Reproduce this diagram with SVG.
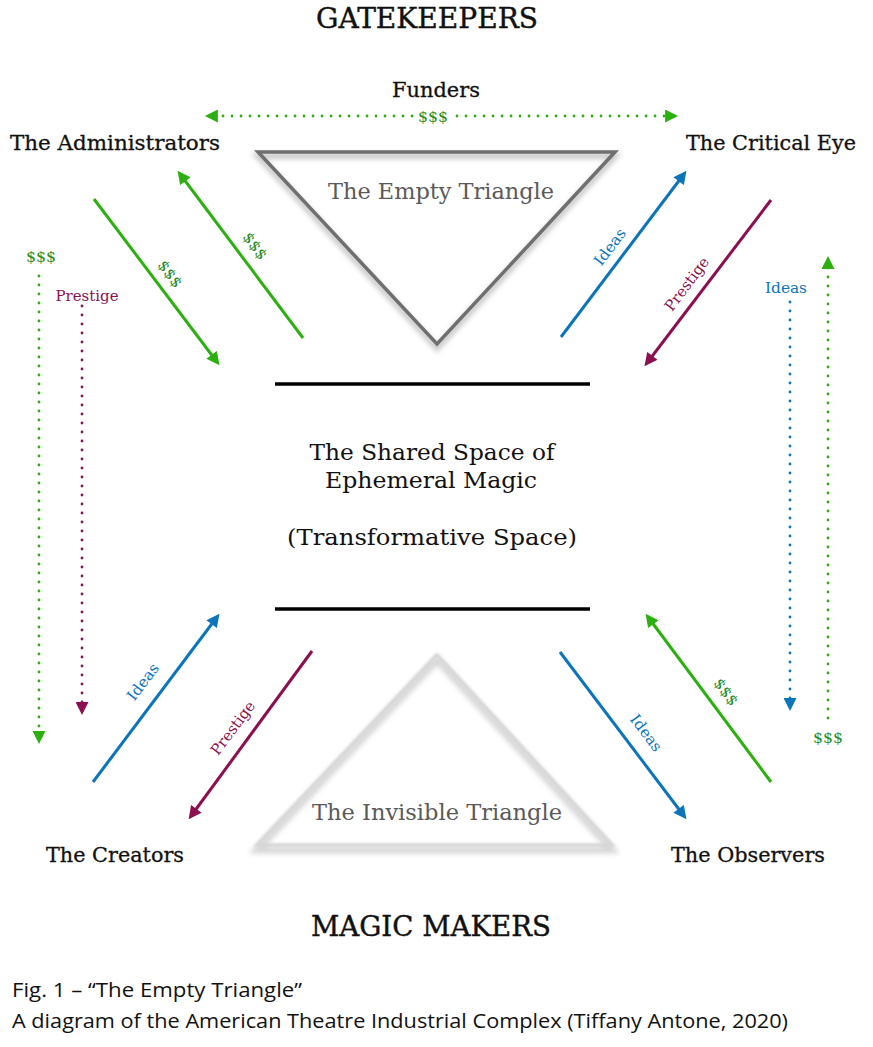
<svg xmlns="http://www.w3.org/2000/svg" width="873" height="1047" viewBox="0 0 873 1047">
<style>
.tw{font-family:"DejaVu Serif","Liberation Serif",serif;fill:#111}
.big{font-size:28px;text-anchor:middle;stroke:#111;stroke-width:0.4}
.node{font-size:21px;stroke:#111;stroke-width:0.3}
.ctr{font-size:22px;text-anchor:middle}
.tri{font-size:22px;text-anchor:middle;fill:#5a5a5a}
.lbl{font-size:15px;text-anchor:middle}
.g{fill:#1f8c1f}.b{fill:#0b74bb}.m{fill:#8c0f50}
.cap{font-family:"Open Sans","Noto Sans","Liberation Sans",sans-serif;font-size:20px;fill:#111}
.sg{stroke:#2bb010}.sb{stroke:#0b74bb}.sm{stroke:#8c0f50}
.solid{stroke-width:3;fill:none}
.dot{stroke-width:2.8;fill:none;stroke-dasharray:0 9;stroke-linecap:round}
</style>
<defs>
<marker id="ag" viewBox="0 0 10 10" refX="3" refY="5" markerWidth="14" markerHeight="13" markerUnits="userSpaceOnUse" orient="auto-start-reverse"><path d="M0,0 L10,5 L0,10 z" fill="#2bb010"/></marker>
<marker id="ab" viewBox="0 0 10 10" refX="3" refY="5" markerWidth="14" markerHeight="13" markerUnits="userSpaceOnUse" orient="auto"><path d="M0,0 L10,5 L0,10 z" fill="#0b74bb"/></marker>
<marker id="am" viewBox="0 0 10 10" refX="3" refY="5" markerWidth="14" markerHeight="13" markerUnits="userSpaceOnUse" orient="auto"><path d="M0,0 L10,5 L0,10 z" fill="#8c0f50"/></marker>
<filter id="blur2" x="-10%" y="-10%" width="120%" height="130%"><feGaussianBlur stdDeviation="2.5"/></filter>
<filter id="blur1" x="-10%" y="-10%" width="120%" height="130%"><feGaussianBlur stdDeviation="1.2"/></filter>
<filter id="sh" x="-5%" y="-100%" width="110%" height="400%"><feGaussianBlur stdDeviation="2"/></filter>
</defs>
<rect width="873" height="1047" fill="#fff"/>

<g id="title-top"><text class="tw big" x="427" y="28" textLength="222" lengthAdjust="spacingAndGlyphs">GATEKEEPERS</text></g>
<g id="funders"><text class="tw node" x="436" y="97" text-anchor="middle" textLength="88" lengthAdjust="spacingAndGlyphs">Funders</text></g>
<g id="administrators"><text class="tw node" x="10" y="150" textLength="210" lengthAdjust="spacingAndGlyphs">The Administrators</text></g>
<g id="critical-eye"><text class="tw node" x="686" y="150" textLength="170" lengthAdjust="spacingAndGlyphs">The Critical Eye</text></g>

<g id="empty-triangle">
<path d="M258,152 L615,152 L437,344 Z" fill="none" stroke="#888" stroke-width="6" opacity="0.45" filter="url(#blur2)" transform="translate(0,4)"/>
<path d="M258,152 L615,152 L437,344 Z" fill="none" stroke="#6f6f6f" stroke-width="3.5" stroke-linejoin="miter"/>
<text class="tw tri" x="441" y="199" textLength="226" lengthAdjust="spacingAndGlyphs">The Empty Triangle</text>
</g>

<g id="shared-space">
<line x1="275" y1="387" x2="590" y2="387" stroke="#000" stroke-width="4" opacity="0.35" filter="url(#sh)"/>
<line x1="275" y1="384" x2="590" y2="384" stroke="#000" stroke-width="3.5"/>
<text class="tw ctr" x="432" y="460" textLength="245" lengthAdjust="spacingAndGlyphs">The Shared Space of</text>
<text class="tw ctr" x="431" y="488" textLength="212" lengthAdjust="spacingAndGlyphs">Ephemeral Magic</text>
<text class="tw ctr" x="432" y="545" textLength="290" lengthAdjust="spacingAndGlyphs">(Transformative Space)</text>
<line x1="275" y1="612" x2="590" y2="612" stroke="#000" stroke-width="4" opacity="0.35" filter="url(#sh)"/>
<line x1="275" y1="609" x2="590" y2="609" stroke="#000" stroke-width="3.5"/>
</g>

<g id="invisible-triangle">
<path d="M437,655 L612,845 L257,845 Z" fill="none" stroke="#bbb" stroke-width="7" opacity="0.6" filter="url(#blur2)" transform="translate(0,5)"/>
<path d="M437,655 L612,845 L257,845 Z" fill="none" stroke="#d6d6d6" stroke-width="3.5" filter="url(#blur1)"/>
<text class="tw tri" x="437" y="820" textLength="250" lengthAdjust="spacingAndGlyphs">The Invisible Triangle</text>
</g>

<g id="creators"><text class="tw node" x="46" y="862" textLength="138" lengthAdjust="spacingAndGlyphs">The Creators</text></g>
<g id="observers"><text class="tw node" x="671" y="862" textLength="154" lengthAdjust="spacingAndGlyphs">The Observers</text></g>
<g id="title-bottom"><text class="tw big" x="431" y="936" textLength="240" lengthAdjust="spacingAndGlyphs">MAGIC MAKERS</text></g>

<g id="connectors">
<line class="dot sg" x1="214" y1="116" x2="669" y2="116" marker-start="url(#ag)" marker-end="url(#ag)"/>
<rect x="417" y="106" width="33" height="18" fill="#fff"/>
<text class="tw lbl g" x="433" y="122" textLength="30" lengthAdjust="spacingAndGlyphs">$$$</text>

<line class="solid sg" x1="94" y1="199" x2="214" y2="358" marker-end="url(#ag)"/>
<text class="tw lbl g" transform="translate(170,274) rotate(53)" y="5" textLength="30" lengthAdjust="spacingAndGlyphs">$$$</text>
<line class="solid sg" x1="303" y1="338" x2="183" y2="178" marker-end="url(#ag)"/>
<text class="tw lbl g" transform="translate(255,246) rotate(53)" y="5" textLength="30" lengthAdjust="spacingAndGlyphs">$$$</text>

<line class="solid sb" x1="561" y1="337" x2="681" y2="178" marker-end="url(#ab)"/>
<text class="tw lbl b" transform="translate(610,247) rotate(-53)" y="5" textLength="42" lengthAdjust="spacingAndGlyphs">Ideas</text>
<line class="solid sm" x1="771" y1="200" x2="650" y2="359" marker-end="url(#am)"/>
<text class="tw lbl m" transform="translate(687,284) rotate(-53)" y="5" textLength="63" lengthAdjust="spacingAndGlyphs">Prestige</text>

<line class="solid sb" x1="93" y1="782" x2="214" y2="621" marker-end="url(#ab)"/>
<text class="tw lbl b" transform="translate(143,682) rotate(-53)" y="5" textLength="42" lengthAdjust="spacingAndGlyphs">Ideas</text>
<line class="solid sm" x1="312" y1="651" x2="194" y2="812" marker-end="url(#am)"/>
<text class="tw lbl m" transform="translate(233,728) rotate(-53)" y="5" textLength="63" lengthAdjust="spacingAndGlyphs">Prestige</text>

<line class="solid sb" x1="560" y1="652" x2="681" y2="812" marker-end="url(#ab)"/>
<text class="tw lbl b" transform="translate(646,733) rotate(53)" y="5" textLength="42" lengthAdjust="spacingAndGlyphs">Ideas</text>
<line class="solid sg" x1="771" y1="782" x2="651" y2="621" marker-end="url(#ag)"/>
<text class="tw lbl g" transform="translate(726,692) rotate(53)" y="5" textLength="30" lengthAdjust="spacingAndGlyphs">$$$</text>

<text class="tw lbl g" x="41" y="262" textLength="30" lengthAdjust="spacingAndGlyphs">$$$</text>
<line class="dot sg" x1="39" y1="276" x2="39" y2="735" marker-end="url(#ag)"/>
<text class="tw lbl m" x="87" y="301" textLength="63" lengthAdjust="spacingAndGlyphs">Prestige</text>
<line class="dot sm" x1="82" y1="306" x2="82" y2="706" marker-end="url(#am)"/>

<text class="tw lbl b" x="786" y="293" textLength="42" lengthAdjust="spacingAndGlyphs">Ideas</text>
<line class="dot sb" x1="790" y1="302" x2="790" y2="702" marker-end="url(#ab)"/>
<line class="dot sg" x1="828" y1="718" x2="828" y2="265" marker-end="url(#ag)"/>
<text class="tw lbl g" x="828" y="743" textLength="30" lengthAdjust="spacingAndGlyphs">$$$</text>
</g>

<g id="caption">
<text class="cap" x="12" y="997" textLength="290" lengthAdjust="spacingAndGlyphs">Fig. 1 – “The Empty Triangle”</text>
<text class="cap" x="12" y="1028" textLength="776" lengthAdjust="spacingAndGlyphs">A diagram of the American Theatre Industrial Complex (Tiffany Antone, 2020)</text>
</g>
</svg>
